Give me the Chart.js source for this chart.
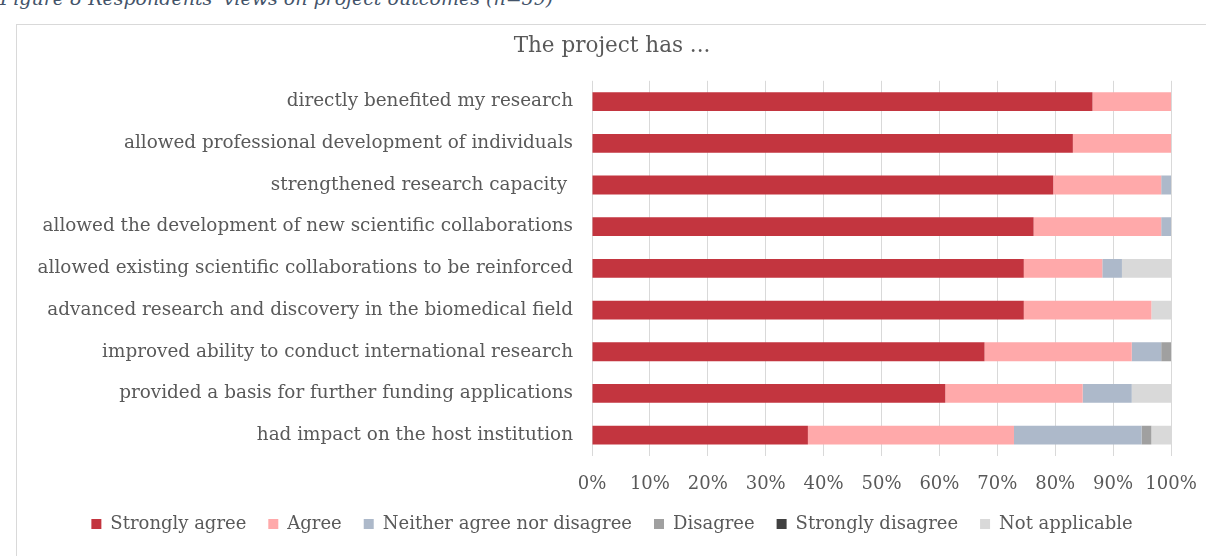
<!DOCTYPE html>
<html>
<head>
<meta charset="utf-8">
<script src="https://cdn.jsdelivr.net/npm/chart.js@4/dist/chart.umd.min.js"></script>
<style>
  html, body { margin: 0; padding: 0; background: #fff; overflow: hidden; }
  body { width: 1206px; height: 556px; position: relative; }
  #caption {
    position: absolute; left: 0; top: -13px;
    font: italic 19px "DejaVu Serif", serif; color: #44546A; white-space: nowrap;
  }
  #box {
    position: absolute; left: 16px; top: 24px; width: 1200px; height: 560px;
    border: 1px solid #d9d9d9; box-sizing: border-box;
  }
  #wrap { position: absolute; left: 1px; top: 1px; width: 1188px; height: 531px; }
</style>
</head>
<body>
<div id="caption">Figure 8 Respondents' views on project outcomes (n=59)</div>
<div id="box"><div id="wrap"><canvas id="outcomes"></canvas></div></div>
<script>
// respondents per answer, n = 59
const total = 59;
const statements = [
  "directly benefited my research",
  "allowed professional development of individuals",
  "strengthened research capacity ",
  "allowed the development of new scientific collaborations",
  "allowed existing scientific collaborations to be reinforced",
  "advanced research and discovery in the biomedical field",
  "improved ability to conduct international research",
  "provided a basis for further funding applications",
  "had impact on the host institution"
];
const stronglyAgree    = [51, 49, 47, 45, 44, 44, 40, 36, 22];
const agree            = [ 8, 10, 11, 13,  8, 13, 15, 14, 21];
const neither          = [ 0,  0,  1,  1,  2,  0,  3,  5, 13];
const disagree         = [ 0,  0,  0,  0,  0,  0,  1,  0,  1];
const stronglyDisagree = [ 0,  0,  0,  0,  0,  0,  0,  0,  0];
const notApplicable    = [ 0,  0,  0,  0,  5,  2,  0,  4,  2];
const percentTicks = [0, 10, 20, 30, 40, 50, 60, 70, 80, 90, 100];

const serif = "'DejaVu Serif', serif";
const textColor = "#595959";

function asPercent(counts) {
  return counts.map(c => c / total * 100);
}

function series(label, counts, color) {
  return {
    label: label,
    data: asPercent(counts),
    backgroundColor: color,
    borderWidth: 0,
    barPercentage: 0.96,
    categoryPercentage: 0.47
  };
}

const ctx = document.getElementById("outcomes").getContext("2d");
new Chart(ctx, {
  type: "bar",
  data: {
    labels: statements,
    datasets: [
      series("Strongly agree", stronglyAgree, "#C3353F"),
      series("Agree", agree, "#FFA9AA"),
      series("Neither agree nor disagree", neither, "#ADB9CA"),
      series("Disagree", disagree, "#A0A0A0"),
      series("Strongly disagree", stronglyDisagree, "#404040"),
      series("Not applicable", notApplicable, "#D9D9D9")
    ]
  },
  options: {
    indexAxis: "y",
    responsive: true,
    maintainAspectRatio: false,
    animation: false,
    layout: { padding: { left: 0, right: 0, top: 0, bottom: 14 } },
    scales: {
      x: {
        stacked: true,
        min: 0,
        max: 100,
        afterBuildTicks: scale => { scale.ticks = percentTicks.map(v => ({ value: v })); },
        afterFit: scale => {
          // keep the title and legend centred on the whole canvas
          scale.height = 37;
          scale.paddingLeft = 0;
          scale.paddingRight = 35;
        },
        grid: { color: "#d9d9d9", drawTicks: false },
        border: { display: false },
        ticks: {
          padding: 18,
          color: textColor,
          font: { family: serif, size: 18 },
          callback: v => v + "%"
        }
      },
      y: {
        stacked: true,
        afterFit: scale => { scale.width = 574; },
        grid: { display: false, drawTicks: false },
        border: { display: false },
        ticks: {
          padding: 19,
          color: textColor,
          autoSkip: false,
          font: { family: serif, size: 18.4 }
        }
      }
    },
    plugins: {
      title: {
        display: true,
        text: "The project has ...",
        color: textColor,
        font: { family: serif, size: 21.5, weight: "normal" },
        padding: { top: 8, bottom: 21 }
      },
      legend: {
        position: "bottom",
        labels: {
          color: textColor,
          font: { family: serif, size: 18 },
          boxWidth: 10,
          boxHeight: 10,
          padding: 22
        }
      },
      tooltip: { enabled: false }
    }
  }
});
</script>
</body>
</html>
